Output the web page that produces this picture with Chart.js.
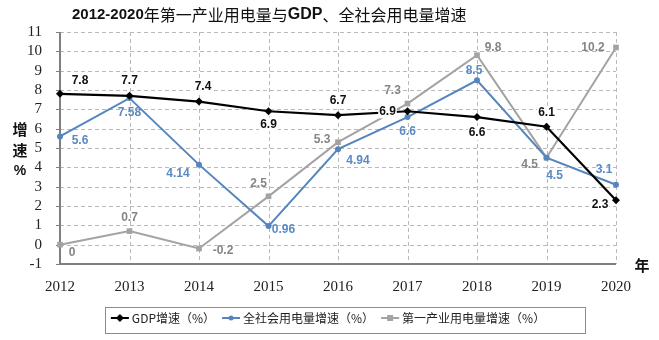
<!DOCTYPE html>
<html>
<head>
<meta charset="utf-8">
<script src="https://cdn.jsdelivr.net/npm/chart.js@4/dist/chart.umd.min.js"></script>
<style>
html,body{margin:0;padding:0;background:#fff;}
#caja{width:659px;height:340px;position:relative;}
</style>
</head>
<body>
<div id="caja"><canvas id="grafico"></canvas></div>
<script>
// datos
var anios = ['2012','2013','2014','2015','2016','2017','2018','2019','2020'];
var gdp = [7.8, 7.7, 7.4, 6.9, 6.7, 6.9, 6.6, 6.1, 2.3];
var totalSociedad = [5.6, 7.58, 4.14, 0.96, 4.94, 6.6, 8.5, 4.5, 3.1];
var primario = [0, 0.7, -0.2, 2.5, 5.3, 7.3, 9.8, 4.5, 10.2];
var nombres = ['GDP增速（%）', '全社会用电量增速（%）', '第一产业用电量增速（%）'];
var ejeMin = -1, ejeMax = 11;

// donde va cada etiqueta respecto a su punto [dx, dy]
var posGdp = [[20,-13],[0,-15],[4,-15],[0,13],[0,-14],[-20,0],[0,16],[0,-14],[-16,4]];
var posTotal = [[20,4],[0,15],[-21,9],[15,4],[20,12],[0,15],[-3,-10],[8,18],[-12,-15]];
var posPrimario = [[12,8],[0,-13],[24,2],[-10,-13],[-16,-3],[-15,-13],[16,-8],[-17,7],[-23,0]];

var colores = ['#000000', '#5585bd', '#a3a3a3'];
var coloresTexto = ['#111111', '#5a8ac3', '#858585'];
var formas = ['rectRot', 'circle', 'rect'];
var radios = [4, 3, 4];
var colorRejilla = '#b9b9b9';
var colorEje = '#7f7f7f';

// icono de linea con marcador para la leyenda
function iconoLeyenda(i){
    var c = document.createElement('canvas');
    c.width = 20; c.height = 10;
    var x = c.getContext('2d');
    x.strokeStyle = colores[i]; x.fillStyle = colores[i]; x.lineWidth = 2;
    x.beginPath(); x.moveTo(1,5); x.lineTo(19,5); x.stroke();
    x.beginPath();
    if(formas[i]=='rectRot'){ x.moveTo(10,1); x.lineTo(14,5); x.lineTo(10,9); x.lineTo(6,5); x.closePath(); }
    else if(formas[i]=='circle'){ x.arc(10,5,2.5,0,Math.PI*2); }
    else { x.rect(7,2,6,6); }
    x.fill();
    return c;
}
var iconos = [iconoLeyenda(0), iconoLeyenda(1), iconoLeyenda(2)];

function serie(i, valores){
    return {
        label: nombres[i],
        data: valores,
        borderColor: colores[i],
        backgroundColor: colores[i],
        borderWidth: i==0 ? 2.2 : 2,
        pointStyle: formas[i],
        pointRadius: radios[i],
        pointHoverRadius: radios[i],
        pointBorderWidth: 0,
        tension: 0,
        fill: false
    };
}

var decorado = {
    id: 'decorado',
    beforeDatasetsDraw: function(chart){
        // rejilla punteada y ejes, sacados de las escalas
        var ctx = chart.ctx, a = chart.chartArea;
        var sx = chart.scales.x, sy = chart.scales.y;
        var izq = Math.round(a.left), der = Math.round(a.right), abajo = Math.round(a.bottom), arriba = Math.round(a.top);
        ctx.save();
        ctx.lineWidth = 1;
        ctx.strokeStyle = colorRejilla;
        ctx.setLineDash([4, 3]);
        sy.ticks.forEach(function(t){
            var y = Math.round(sy.getPixelForValue(t.value)) + 0.5;
            ctx.beginPath(); ctx.moveTo(izq, y); ctx.lineTo(der, y); ctx.stroke();
        });
        sx.ticks.forEach(function(t, k){
            var x = Math.round(sx.getPixelForTick(k)) + 0.5;
            ctx.beginPath(); ctx.moveTo(x, arriba); ctx.lineTo(x, abajo); ctx.stroke();
        });
        ctx.setLineDash([]);
        ctx.strokeStyle = colorEje;
        ctx.lineWidth = 2;
        ctx.beginPath();
        ctx.moveTo(izq, arriba); ctx.lineTo(izq, abajo); ctx.lineTo(der, abajo);
        ctx.stroke();
        ctx.lineWidth = 1;
        sy.ticks.forEach(function(t){
            var y = Math.round(sy.getPixelForValue(t.value)) + 0.5;
            ctx.beginPath(); ctx.moveTo(izq - 4, y); ctx.lineTo(izq, y); ctx.stroke();
        });
        ctx.restore();
    },
    afterDatasetsDraw: function(chart){
        var ctx = chart.ctx;
        var posiciones = [posGdp, posTotal, posPrimario];
        ctx.save();
        ctx.font = 'bold 12px "Liberation Sans", sans-serif';
        ctx.textAlign = 'center';
        ctx.textBaseline = 'middle';
        // de atras hacia adelante, la del GDP lleva fondo blanco
        for(var i = chart.data.datasets.length-1; i >= 0; i--){
            var ds = chart.data.datasets[i];
            var meta = chart.getDatasetMeta(i);
            meta.data.forEach(function(p, j){
                var off = posiciones[i][j];
                var txt = String(ds.data[j]);
                var tx = p.x + off[0], ty = p.y + off[1];
                if(i == 0){
                    var w = ctx.measureText(txt).width;
                    ctx.fillStyle = '#fff';
                    ctx.fillRect(tx - w/2 - 1, ty - 7, w + 2, 14);
                }
                ctx.fillStyle = coloresTexto[i];
                ctx.fillText(txt, tx, ty);
            });
        }
        ctx.restore();
    },
    afterDraw: function(chart){
        var ctx = chart.ctx;
        ctx.save();
        // titulo
        var partes = [
            ['2012-2020', 'bold 15px "Liberation Sans", sans-serif'],
            ['年第一产业用电量与', '16px "Noto Sans CJK SC", sans-serif'],
            ['GDP', 'bold 16px "Liberation Sans", sans-serif'],
            ['、全社会用电量增速', '16px "Noto Sans CJK SC", sans-serif']
        ];
        ctx.fillStyle = '#111';
        ctx.textBaseline = 'middle';
        ctx.textAlign = 'left';
        var x = 72;
        partes.forEach(function(p){
            ctx.font = p[1];
            ctx.fillText(p[0], x, 15);
            x += ctx.measureText(p[0]).width;
        });
        // titulo del eje y
        ctx.font = 'bold 15px "Noto Sans CJK SC", sans-serif';
        ctx.textAlign = 'center';
        ctx.fillText('增', 20, 129);
        ctx.fillText('速', 20, 150);
        ctx.font = 'bold 14px "Liberation Sans", sans-serif';
        ctx.fillText('%', 20, 171);
        // unidad del eje x
        ctx.font = 'bold 15px "Noto Sans CJK SC", sans-serif';
        ctx.fillText('年', 642, 265);
        // recuadro de la leyenda
        var cajas = chart.legend.legendHitBoxes;
        if(cajas && cajas.length){
            var izq = cajas[0].left - 9;
            var ult = cajas[cajas.length-1];
            var der = ult.left + ult.width + 40;
            ctx.strokeStyle = '#8c8c8c';
            ctx.lineWidth = 1;
            ctx.strokeRect(Math.round(izq)+0.5, 307.5, Math.round(der-izq), 26);
        }
        ctx.restore();
    }
};

var ctx = document.getElementById('grafico').getContext('2d');
var chart = new Chart(ctx, {
    type: 'line',
    data: {
        labels: anios,
        datasets: [serie(0, gdp), serie(1, totalSociedad), serie(2, primario)]
    },
    options: {
        responsive: true,
        maintainAspectRatio: false,
        animation: false,
        devicePixelRatio: 1,
        layout: { padding: { top: 32, left: 0, right: 0, bottom: 6 } },
        scales: {
            x: {
                offset: false,
                afterFit: function(s){ s.paddingRight = 43; },
                grid: { display: false },
                border: { display: false },
                ticks: { color: '#222', padding: 6, maxRotation: 0, autoSkip: false,
                    font: { family: '"Liberation Serif", "Times New Roman", serif', size: 15 } }
            },
            y: {
                min: ejeMin,
                max: ejeMax,
                afterFit: function(s){ s.width = 60; },
                grid: { display: false },
                border: { display: false },
                ticks: { stepSize: 1, maxTicksLimit: 20, autoSkip: false, color: '#222', padding: 10,
                    font: { family: '"Liberation Serif", "Times New Roman", serif', size: 15 } }
            }
        },
        plugins: {
            title: { display: false },
            tooltip: { enabled: false },
            legend: {
                position: 'bottom',
                labels: {
                    usePointStyle: true,
                    padding: 10,
                    color: '#222',
                    font: { family: '"Noto Sans CJK SC", sans-serif', size: 12 },
                    generateLabels: function(chart){
                        var items = Chart.defaults.plugins.legend.labels.generateLabels(chart);
                        items.forEach(function(it, i){ it.pointStyle = iconos[i]; });
                        return items;
                    }
                }
            }
        }
    },
    plugins: [decorado]
});
</script>
</body>
</html>
